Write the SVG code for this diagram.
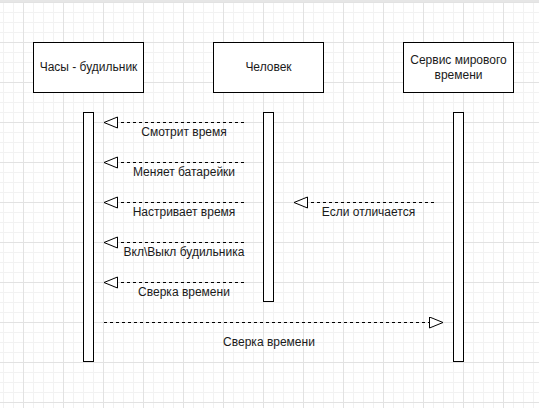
<svg xmlns="http://www.w3.org/2000/svg" width="539" height="408" viewBox="0 0 539 408">
<defs>
<pattern id="minor" width="10" height="10" patternUnits="userSpaceOnUse" x="3" y="2">
<path d="M0.5 0V10M0 0.5H10" fill="none" stroke="#f2f2f2" stroke-width="1"/>
</pattern>
<pattern id="major" width="40" height="40" patternUnits="userSpaceOnUse" x="23" y="2">
<path d="M0.5 0V40M0 0.5H40" fill="none" stroke="#e2e2e2" stroke-width="1"/>
</pattern>
<marker id="open" markerWidth="16" markerHeight="14" refX="14" refY="6" orient="auto" markerUnits="userSpaceOnUse">
<path d="M14 6L0.5 0.5V11.5Z" fill="#fff" stroke="#000" stroke-width="1"/>
</marker>
</defs>
<style>
.box{fill:#fff;stroke:#000;stroke-width:1}
.t{font-family:"Liberation Sans",Arial,sans-serif;font-size:12px;fill:#1a1a1a;text-anchor:middle}
.msg{fill:none;stroke:#000;stroke-width:1;stroke-dasharray:3 3;marker-end:url(#open)}
</style>
<rect width="539" height="408" fill="#fff"/>
<rect width="539" height="408" fill="url(#minor)"/>
<rect width="539" height="408" fill="url(#major)"/>
<rect x="0" y="0" width="539" height="2" fill="#e6e6e6"/>

<g id="clock">
<rect class="box" x="33.5" y="42.5" width="110" height="50"/>
<text class="t" x="88.5" y="71">Часы - будильник</text>
<rect class="box" x="83.5" y="112.5" width="10" height="249"/>
</g>
<g id="human">
<rect class="box" x="213.5" y="42.5" width="110" height="50"/>
<text class="t" x="268.5" y="71">Человек</text>
<rect class="box" x="263.5" y="112.5" width="10" height="189"/>
</g>
<g id="service">
<rect class="box" x="403.5" y="42.5" width="110" height="50"/>
<text class="t" x="458.5" y="64">Сервис мирового</text>
<text class="t" x="458.5" y="79">времени</text>
<rect class="box" x="453.5" y="112.5" width="10" height="249"/>
</g>

<g id="connectors">
<path class="msg" d="M244 122.5H104"/>
<text class="t" x="184" y="136">Смотрит время</text>
<path class="msg" d="M244 162.5H104"/>
<text class="t" x="184" y="176">Меняет батарейки</text>
<path class="msg" d="M244 202.5H104"/>
<text class="t" x="184" y="216">Настривает время</text>
<path class="msg" d="M244 242.5H104"/>
<text class="t" x="184" y="256">Вкл\Выкл будильника</text>
<path class="msg" d="M244 282.5H104"/>
<text class="t" x="184" y="296">Сверка времени</text>
<path class="msg" d="M434 202.5H294"/>
<text class="t" x="368.5" y="216">Если отличается</text>
<path class="msg" d="M104 322.5H443"/>
<text class="t" x="269" y="346">Сверка времени</text>
</g>
</svg>
